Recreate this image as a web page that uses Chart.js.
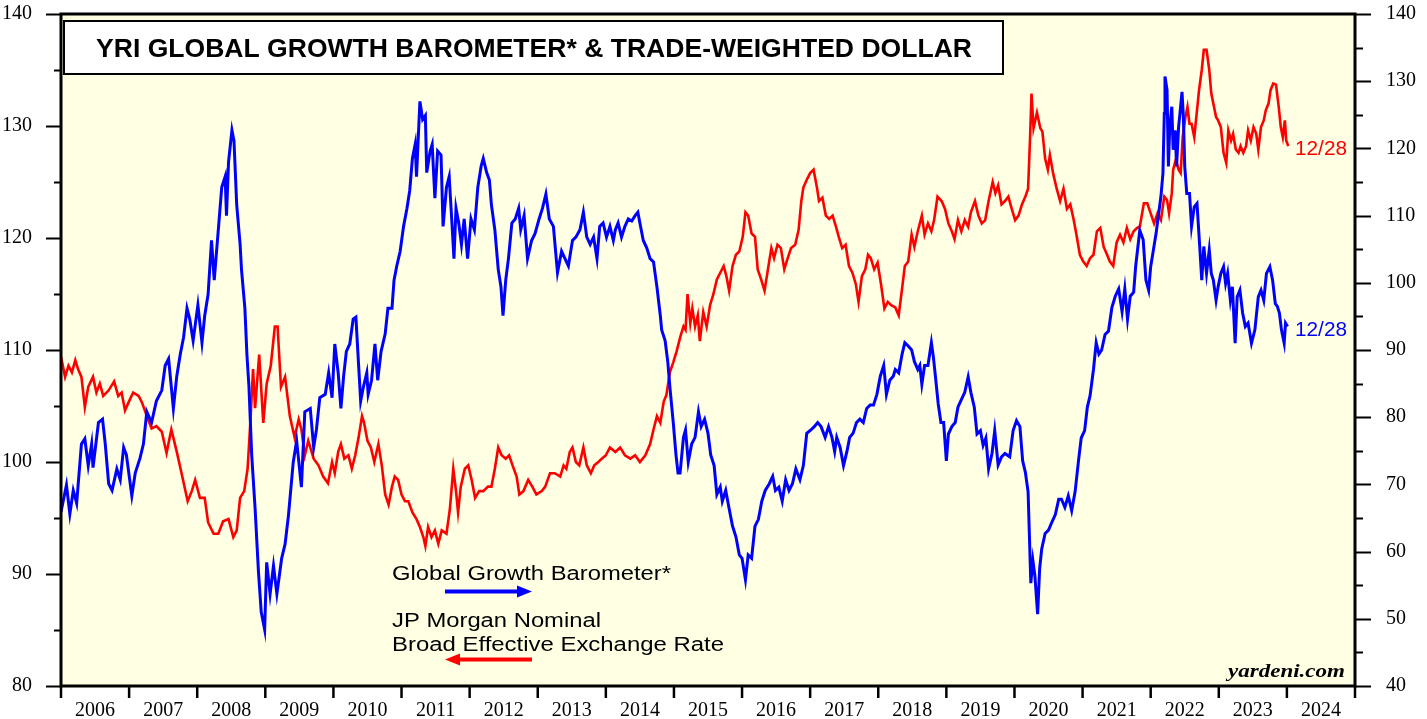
<!DOCTYPE html>
<html><head><meta charset="utf-8">
<script src="https://cdn.jsdelivr.net/npm/chart.js@4.4.1/dist/chart.umd.min.js"></script>
<style>html,body{margin:0;padding:0;background:#fff;overflow:hidden}</style>
</head><body>
<canvas id="c" width="1427" height="719"></canvas>
<script>
const yearLabels = ['2006','2007','2008','2009','2010','2011','2012','2013','2014','2015','2016','2017','2018','2019','2020','2021','2022','2023','2024'];
const leftTickValues = [80,90,100,110,120,130,140];
const rightTickValues = [40,50,60,70,80,90,100,110,120,130,140];
const titleText = 'YRI GLOBAL GROWTH BAROMETER* & TRADE-WEIGHTED DOLLAR';
const blueName = 'Global Growth Barometer*';
const redNameLines = ['JP Morgan Nominal','Broad Effective Exchange Rate'];
const lastDateLabel = '12/28';
const sourceText = 'yardeni.com';

// Global Growth Barometer (right axis)
const blueDates = [2006.00,2006.08,2006.13,2006.18,2006.23,2006.30,2006.35,2006.40,2006.45,2006.47,2006.55,2006.61,2006.65,2006.70,2006.75,2006.82,2006.87,2006.92,2006.96,2007.04,2007.09,2007.16,2007.21,2007.26,2007.33,2007.40,2007.48,2007.53,2007.58,2007.65,2007.70,2007.75,2007.80,2007.85,2007.89,2007.94,2008.01,2008.07,2008.11,2008.16,2008.21,2008.25,2008.31,2008.36,2008.41,2008.43,2008.46,2008.51,2008.54,2008.58,2008.63,2008.65,2008.70,2008.73,2008.76,2008.80,2008.85,2008.90,2008.94,2008.99,2009.02,2009.07,2009.12,2009.17,2009.24,2009.29,2009.34,2009.41,2009.46,2009.53,2009.58,2009.66,2009.71,2009.75,2009.80,2009.88,2009.93,2009.98,
2010.02,2010.07,2010.11,2010.15,2010.19,2010.24,2010.29,2010.33,2010.37,2010.40,2010.44,2010.49,2010.51,2010.56,2010.61,2010.65,2010.70,2010.76,2010.80,2010.86,2010.89,2010.93,2010.98,2011.03,2011.08,2011.12,2011.16,2011.20,2011.22,2011.27,2011.31,2011.35,2011.37,2011.42,2011.45,2011.49,2011.53,2011.58,2011.61,2011.66,2011.70,2011.74,2011.77,2011.80,2011.84,2011.88,2011.92,2011.97,2012.02,2012.07,2012.12,2012.17,2012.20,2012.25,2012.29,2012.32,2012.37,2012.42,2012.46,2012.49,2012.53,2012.57,2012.62,2012.67,2012.72,2012.75,2012.80,2012.85,2012.91,2012.96,2013.02,2013.07,2013.12,2013.17,2013.23,2013.29,2013.35,2013.40,2013.45,2013.51,2013.56,2013.62,2013.67,2013.72,2013.77,2013.82,2013.87,2013.91,2013.96,2014.01,2014.06,2014.11,
2014.14,2014.18,2014.23,2014.28,2014.33,2014.38,2014.43,2014.47,2014.50,2014.55,2014.60,2014.65,2014.70,2014.75,2014.80,2014.82,2014.87,2014.91,2014.94,2014.99,2015.03,2015.06,2015.09,2015.14,2015.17,2015.21,2015.26,2015.31,2015.36,2015.40,2015.45,2015.50,2015.54,2015.59,2015.63,2015.68,2015.71,2015.76,2015.81,2015.86,2015.91,2015.96,2016.00,2016.05,2016.09,2016.14,2016.19,2016.24,2016.29,2016.34,2016.40,2016.45,2016.49,2016.54,2016.59,2016.64,2016.69,2016.74,2016.79,2016.85,2016.90,2016.95,2017.01,2017.06,2017.11,2017.16,2017.22,2017.27,2017.32,2017.36,2017.39,2017.44,2017.49,2017.54,2017.58,2017.63,2017.68,2017.73,2017.78,2017.83,2017.88,2017.93,2017.98,2018.03,2018.08,2018.12,2018.17,2018.22,
2018.25,2018.30,2018.35,2018.39,2018.44,2018.49,2018.53,2018.58,2018.61,2018.64,2018.68,2018.73,2018.78,2018.81,2018.84,2018.88,2018.92,2018.96,2019.00,2019.03,2019.08,2019.13,2019.17,2019.22,2019.27,2019.32,2019.36,2019.41,2019.45,2019.50,2019.54,2019.58,2019.62,2019.67,2019.71,2019.76,2019.81,2019.86,2019.93,2019.98,2020.03,2020.08,2020.12,2020.16,2020.20,2020.22,2020.24,2020.27,2020.30,2020.34,2020.37,2020.40,2020.45,2020.50,2020.55,2020.60,2020.65,2020.69,2020.74,2020.79,2020.84,2020.89,2020.94,2020.98,2021.03,2021.07,2021.11,2021.16,2021.20,2021.24,2021.28,2021.33,2021.38,2021.43,2021.48,2021.53,2021.58,2021.62,2021.66,2021.70,2021.75,2021.78,
2021.84,2021.89,2021.93,2021.97,2022.00,2022.04,2022.08,2022.11,2022.15,2022.18,2022.20,2022.21,2022.24,2022.26,2022.28,2022.31,2022.33,2022.36,2022.38,2022.41,2022.43,2022.46,2022.48,2022.50,2022.53,2022.57,2022.60,2022.64,2022.68,2022.72,2022.75,2022.78,2022.82,2022.86,2022.89,2022.92,2022.96,2022.99,2023.03,2023.07,2023.10,2023.13,2023.17,2023.20,2023.24,2023.27,2023.31,2023.35,2023.39,2023.43,2023.48,2023.53,2023.58,2023.62,2023.66,2023.70,2023.75,2023.79,2023.83,2023.86,2023.89,2023.92,2023.96,2023.98,2024.01];
const blueValues = [65.9,69.9,65.6,69.1,67.2,76.0,76.8,72.8,76.0,72.5,79.2,79.7,76.0,70.1,69.1,72.3,70.7,75.5,74.4,68.3,71.7,73.9,76.0,80.8,79.2,82.4,84.0,87.7,88.7,81.3,86.1,89.3,91.9,96.2,94.6,91.4,96.7,91.1,95.1,98.3,106.3,100.4,107.9,114.2,115.8,110.0,118.0,122.7,121.1,111.6,105.7,102.0,96.2,89.3,84.5,74.4,66.4,56.9,51.0,48.4,58.4,53.7,57.9,53.7,59.0,61.1,65.4,73.3,76.5,69.6,80.8,81.3,75.5,78.1,82.9,83.4,86.6,82.9,
90.9,86.6,81.3,86.1,89.8,90.9,94.6,94.9,87.7,82.4,84.5,86.6,83.4,85.5,90.9,85.5,89.8,92.4,96.2,96.2,100.4,102.5,104.7,108.4,111.1,113.7,118.5,120.6,115.8,127.0,124.3,124.9,116.4,119.6,120.6,112.6,119.6,119.0,108.4,114.2,115.8,108.9,103.6,111.1,108.9,105.7,109.5,103.6,109.5,107.9,114.2,117.4,118.5,116.4,115.3,111.6,107.9,102.0,99.4,95.1,100.4,103.6,108.9,109.5,111.1,107.9,110.0,103.6,106.3,107.3,109.5,111.1,113.2,109.5,108.4,101.5,104.7,103.6,102.5,106.3,106.8,107.9,110.5,106.8,105.7,106.8,103.6,108.4,108.9,106.8,108.4,106.3,
107.9,108.9,106.8,108.4,109.5,109.2,110.0,110.5,108.9,106.3,105.2,103.6,103.1,99.4,95.1,93.0,91.4,88.2,84.5,79.2,74.4,71.7,71.7,77.0,78.1,73.3,76.0,77.0,80.8,78.6,79.7,77.6,74.4,72.8,68.5,69.6,67.5,69.1,66.4,63.8,62.2,59.5,59.0,55.8,59.5,59.0,63.8,64.8,67.5,69.1,70.1,71.2,69.1,69.6,67.5,70.7,69.1,70.1,72.3,70.7,72.8,77.6,78.1,78.6,79.2,78.6,77.0,78.6,77.0,74.9,77.0,75.5,72.8,74.9,77.0,77.6,79.2,79.7,79.2,81.3,81.8,81.8,83.4,86.1,87.7,83.4,85.5,86.1,
87.1,86.6,89.4,91.1,90.6,90.0,88.3,87.1,87.7,84.9,87.7,87.7,91.1,88.9,86.0,82.0,79.2,79.2,73.5,77.5,78.6,79.2,81.5,82.6,83.7,86.0,83.7,81.5,77.5,78.0,75.8,76.9,72.3,74.6,78.0,72.9,74.1,74.6,74.1,78.0,79.5,78.6,73.5,71.8,68.9,62.1,55.3,58.7,56.4,50.7,57.5,60.4,62.7,63.2,64.4,65.5,67.8,67.8,66.6,68.3,66.1,68.9,73.5,76.9,78.0,81.5,83.2,87.1,91.1,89.4,90.0,92.3,92.8,96.3,98.0,99.1,95.7,99.1,94.6,98.0,98.6,102.5,
107.8,106.4,100.4,98.9,102.4,104.9,107.4,109.8,112.8,116.3,125.2,130.7,128.7,117.3,123.2,126.2,119.8,122.7,117.3,123.2,125.2,128.4,124.7,117.3,113.3,113.3,108.4,111.3,111.8,105.4,100.4,105.4,101.4,104.9,101.4,100.4,97.4,99.4,101.4,102.4,99.9,101.4,97.4,99.4,91.0,97.9,98.9,95.5,93.5,94.0,91.0,93.0,97.9,98.9,97.4,101.4,102.4,100.4,96.9,96.5,95.5,93.0,91.0,94.0,93.5];

// JP Morgan Nominal Broad Effective Exchange Rate (left axis)
const redDates = [2006.00,2006.06,2006.11,2006.16,2006.21,2006.25,2006.30,2006.35,2006.40,2006.47,2006.52,2006.57,2006.62,2006.70,2006.78,2006.84,2006.89,2006.94,2006.99,2007.06,2007.14,2007.19,2007.26,2007.33,2007.40,2007.48,2007.55,2007.62,2007.70,2007.77,2007.86,2007.92,2007.97,2008.04,2008.11,2008.16,2008.24,2008.31,2008.38,2008.46,2008.53,2008.58,2008.63,2008.69,2008.74,2008.78,2008.82,2008.85,2008.91,2008.97,2009.02,2009.08,2009.14,2009.18,2009.23,2009.29,2009.36,2009.43,2009.49,2009.53,2009.58,2009.63,2009.71,2009.78,2009.85,2009.92,2009.98,
2010.02,2010.07,2010.11,2010.16,2010.22,2010.27,2010.32,2010.37,2010.42,2010.45,2010.50,2010.55,2010.60,2010.66,2010.71,2010.76,2010.81,2010.86,2010.90,2010.95,2011.00,2011.05,2011.10,2011.16,2011.22,2011.27,2011.32,2011.35,2011.39,2011.44,2011.49,2011.54,2011.59,2011.66,2011.71,2011.76,2011.80,2011.83,2011.87,2011.93,2011.98,2012.03,2012.08,2012.14,2012.20,2012.27,2012.32,2012.37,2012.42,2012.47,2012.53,2012.58,2012.63,2012.69,2012.73,2012.79,2012.86,2012.92,2012.98,2013.06,2013.11,2013.18,2013.25,2013.33,2013.38,2013.42,2013.47,2013.51,2013.56,2013.61,2013.67,2013.72,2013.78,2013.83,2013.89,2013.94,2014.00,2014.06,
2014.14,2014.21,2014.28,2014.36,2014.43,2014.50,2014.58,2014.65,2014.70,2014.75,2014.80,2014.85,2014.89,2014.94,2014.99,2015.04,2015.09,2015.14,2015.17,2015.20,2015.24,2015.27,2015.31,2015.35,2015.38,2015.43,2015.48,2015.53,2015.58,2015.63,2015.68,2015.73,2015.77,2015.81,2015.86,2015.91,2015.96,2016.01,2016.05,2016.09,2016.14,2016.19,2016.23,2016.28,2016.33,2016.38,2016.43,2016.47,2016.52,2016.57,2016.62,2016.67,2016.72,2016.78,2016.83,2016.87,2016.90,2016.95,2017.00,2017.05,2017.10,2017.13,2017.18,2017.23,2017.28,2017.33,2017.38,2017.42,2017.47,2017.52,2017.57,2017.62,2017.67,2017.71,2017.76,2017.81,2017.85,2017.89,2017.94,2017.99,2018.04,2018.09,2018.14,2018.19,
2018.25,2018.30,2018.35,2018.39,2018.44,2018.49,2018.53,2018.58,2018.64,2018.68,2018.73,2018.78,2018.82,2018.87,2018.93,2018.98,2019.03,2019.08,2019.12,2019.17,2019.22,2019.27,2019.32,2019.36,2019.42,2019.47,2019.52,2019.57,2019.62,2019.68,2019.72,2019.76,2019.81,2019.86,2019.91,2019.96,2020.01,2020.06,2020.11,2020.16,2020.20,2020.23,2020.25,2020.28,2020.33,2020.38,2020.41,2020.45,2020.49,2020.52,2020.57,2020.62,2020.67,2020.72,2020.77,2020.82,2020.87,2020.91,2020.96,2021.01,2021.06,2021.11,2021.16,2021.21,2021.26,2021.31,2021.36,2021.40,2021.45,2021.50,2021.55,2021.60,2021.65,2021.70,2021.75,2021.80,
2021.84,2021.90,2021.95,2022.00,2022.05,2022.10,2022.15,2022.20,2022.24,2022.27,2022.31,2022.33,2022.37,2022.41,2022.44,2022.47,2022.51,2022.54,2022.57,2022.60,2022.64,2022.68,2022.71,2022.75,2022.78,2022.82,2022.86,2022.89,2022.92,2022.96,2022.99,2023.03,2023.07,2023.11,2023.14,2023.18,2023.21,2023.25,2023.29,2023.32,2023.36,2023.40,2023.43,2023.47,2023.51,2023.55,2023.58,2023.62,2023.66,2023.69,2023.73,2023.76,2023.80,2023.84,2023.88,2023.91,2023.94,2023.97,2023.99,2024.02];
const redValues = [109.4,107.6,108.6,108.0,109.1,108.3,107.6,104.9,106.7,107.6,106.2,107.0,105.9,106.4,107.2,105.9,106.2,104.6,105.3,106.2,105.9,105.3,104.1,103.0,103.2,102.7,100.8,102.9,100.9,99.0,96.5,97.4,98.4,96.8,96.8,94.6,93.6,93.6,94.7,94.9,93.3,93.9,96.8,97.4,99.4,103.5,108.3,104.8,109.6,103.5,107.0,108.6,112.1,112.1,106.7,107.6,104.1,102.2,103.8,102.9,100.6,101.9,100.3,99.7,98.7,98.1,100.0,
99.0,100.9,101.6,100.3,100.6,99.4,100.6,102.2,104.1,103.5,101.9,101.3,100.0,101.6,99.7,97.1,96.2,97.8,98.7,98.4,97.1,96.5,96.5,95.5,94.9,94.2,93.3,92.5,94.2,93.3,93.9,92.7,93.9,93.6,95.8,99.4,97.4,95.5,97.8,99.4,99.7,98.4,96.8,97.4,97.4,97.8,97.8,99.4,101.3,100.6,100.3,100.6,99.7,98.7,97.1,97.4,98.4,97.8,97.1,97.4,97.8,99.0,99.0,98.7,99.7,99.4,100.9,101.3,100.0,99.7,101.3,99.7,99.0,99.7,100.0,100.3,100.6,101.3,
100.9,101.3,100.6,100.3,100.6,100.0,100.6,101.6,102.9,104.1,103.5,105.4,106.0,108.0,108.9,109.9,111.1,112.1,111.8,115.0,112.4,113.7,112.1,113.1,110.8,113.4,112.1,114.0,115.0,116.3,116.9,117.5,116.6,115.3,117.5,118.5,118.8,120.1,122.3,122.0,120.4,120.1,117.2,116.3,115.3,117.2,119.1,118.2,119.4,119.1,117.2,118.2,119.1,119.4,120.7,123.3,124.5,125.2,125.8,126.1,124.5,123.3,123.6,122.0,121.7,122.0,121.0,120.1,119.1,119.4,117.5,116.9,115.9,114.3,116.6,117.2,118.5,118.2,117.2,117.8,115.9,113.7,114.3,114.0,
113.8,113.1,115.5,117.5,117.9,120.3,119.2,120.6,122.0,120.3,121.3,120.6,121.6,123.7,123.3,122.6,121.3,120.6,119.9,121.6,120.6,121.6,121.0,122.3,123.3,122.0,121.3,121.6,123.3,125.0,124.0,124.7,123.0,123.3,123.7,122.6,121.6,122.0,123.0,123.7,124.4,129.1,132.9,129.8,131.2,129.8,129.5,127.1,126.1,127.4,125.7,124.4,123.3,124.4,122.6,123.0,121.6,120.3,118.5,117.9,117.5,118.2,118.5,120.6,120.9,119.2,118.5,117.9,117.5,119.6,120.3,119.6,120.9,119.9,120.6,120.9,
121.0,123.1,123.1,122.2,121.3,122.2,121.6,123.7,123.4,122.2,124.0,126.1,127.0,126.1,125.8,129.0,130.8,131.7,130.2,130.2,129.0,131.4,133.2,135.0,136.8,136.8,135.0,132.9,132.0,130.8,130.5,129.9,127.6,126.7,129.6,128.7,129.3,127.9,127.6,128.2,127.6,128.2,129.6,128.7,129.9,129.3,127.9,129.9,130.5,131.4,132.0,133.2,133.8,133.7,131.7,129.9,129.0,130.5,128.7,128.2];

const BLUE = '#0000FF', RED = '#FF0000', BG = '#FFFFE3';

function fitText(ctx, text, x, y, targetW, align) {
  const w = ctx.measureText(text).width;
  const s = targetW / w;
  ctx.save();
  ctx.translate(x, y);
  ctx.scale(s, 1);
  ctx.textAlign = align;
  ctx.textBaseline = 'alphabetic';
  ctx.fillText(text, 0, 0);
  ctx.restore();
}

function arrow(ctx, x1, x2, y, color, dir) {
  ctx.save();
  ctx.strokeStyle = color; ctx.fillStyle = color;
  ctx.lineWidth = 4; ctx.lineCap = 'butt';
  const tip = dir > 0 ? x2 : x1;
  const headLen = 15, headH = 6;
  ctx.beginPath();
  if (dir > 0) { ctx.moveTo(x1, y); ctx.lineTo(x2 - headLen + 2, y); }
  else { ctx.moveTo(x2, y); ctx.lineTo(x1 + headLen - 2, y); }
  ctx.stroke();
  ctx.beginPath();
  ctx.moveTo(tip, y);
  ctx.lineTo(tip - dir * headLen, y - headH);
  ctx.lineTo(tip - dir * headLen, y + headH);
  ctx.closePath(); ctx.fill();
  ctx.restore();
}

const decor = {
  id: 'decor',
  beforeDraw(chart) {
    const {ctx, chartArea: a} = chart;
    ctx.save();
    ctx.fillStyle = '#fff';
    ctx.fillRect(0, 0, chart.width, chart.height);
    ctx.fillStyle = BG;
    ctx.fillRect(a.left, a.top, a.right - a.left, a.bottom - a.top);
    ctx.restore();
  },
  afterDraw(chart) {
    const {ctx, chartArea: a, scales} = chart;
    ctx.save();
    ctx.strokeStyle = '#000';
    ctx.lineWidth = 2;
    const yL = scales.yL, yR = scales.yR, x = scales.x;
    for (let v = yL.min; v <= yL.max; v += 5) {
      const py = Math.round(yL.getPixelForValue(v)) + 0.5;
      const len = v % 10 === 0 ? 15 : 7;
      ctx.beginPath(); ctx.moveTo(a.left - len, py); ctx.lineTo(a.left, py); ctx.stroke();
    }
    for (let v = yR.min; v <= yR.max; v += 5) {
      const py = Math.round(yR.getPixelForValue(v)) + 0.5;
      const len = v % 10 === 0 ? 16 : 8;
      ctx.beginPath(); ctx.moveTo(a.right, py); ctx.lineTo(a.right + len, py); ctx.stroke();
    }
    ctx.lineWidth = 2.5;
    for (let i = 0; i <= yearLabels.length; i++) {
      const yr = i < yearLabels.length ? Number(yearLabels[i]) : Number(yearLabels[i-1]) + 1;
      const px = x.getPixelForValue(yr);
      ctx.beginPath(); ctx.moveTo(px, a.bottom); ctx.lineTo(px, a.bottom + 12); ctx.stroke();
    }
    ctx.lineWidth = 3;
    ctx.strokeRect(a.left, a.top, a.right - a.left, a.bottom - a.top);

    ctx.fillStyle = '#fff';
    ctx.fillRect(64, 21, 939, 53);
    ctx.lineWidth = 2;
    ctx.strokeStyle = '#000';
    ctx.strokeRect(64, 21, 939, 53);
    ctx.fillStyle = '#000';
    ctx.font = 'bold 25px "Liberation Sans", Arial, sans-serif';
    fitText(ctx, titleText, 534, 56.5, 876, 'center');

    ctx.font = '20px "Liberation Sans", Arial, sans-serif';
    ctx.fillStyle = '#000';
    fitText(ctx, blueName, 392, 580, 279, 'left');
    fitText(ctx, redNameLines[0], 392, 627, 209, 'left');
    fitText(ctx, redNameLines[1], 392, 651, 332, 'left');
    arrow(ctx, 445, 532, 591.5, BLUE, 1);
    arrow(ctx, 445, 532, 659.5, RED, -1);

    ctx.font = '20px "Liberation Sans", Arial, sans-serif';
    ctx.fillStyle = RED;
    fitText(ctx, lastDateLabel, 1295, 155, 52, 'left');
    ctx.fillStyle = BLUE;
    fitText(ctx, lastDateLabel, 1295, 336, 52, 'left');

    ctx.fillStyle = '#000';
    ctx.font = 'italic bold 19px "Liberation Serif", "Times New Roman", serif';
    fitText(ctx, sourceText, 1345, 677, 117, 'right');
    ctx.restore();
  }
};

const serif = {family: '"Liberation Serif", "Times New Roman", serif', size: 20};

function noPadY(s, w) { s.width = w; s.paddingTop = 0; s.paddingBottom = 0; }

new Chart(document.getElementById('c'), {
  type: 'line',
  data: {
    datasets: [
      {
        label: blueName,
        data: blueDates.map((d, i) => ({x: d, y: blueValues[i]})),
        yAxisID: 'yR',
        borderColor: BLUE,
        borderWidth: 3,
        pointRadius: 0,
        tension: 0,
        fill: false
      },
      {
        label: redNameLines.join(' '),
        data: redDates.map((d, i) => ({x: d, y: redValues[i]})),
        yAxisID: 'yL',
        borderColor: RED,
        borderWidth: 2.6,
        pointRadius: 0,
        tension: 0,
        fill: false
      }
    ]
  },
  options: {
    responsive: false,
    devicePixelRatio: 1,
    animation: false,
    layout: {padding: {top: 14, left: 0, right: 0, bottom: 0}},
    plugins: {legend: {display: false}, tooltip: {enabled: false}, title: {display: false}},
    scales: {
      x: {
        type: 'linear',
        position: 'bottom',
        min: Number(yearLabels[0]),
        max: Number(yearLabels[yearLabels.length - 1]) + 1,
        grid: {display: false},
        border: {display: false},
        afterBuildTicks: s => { s.ticks = yearLabels.map(l => ({value: Number(l) + 0.5})); },
        ticks: {
          autoSkip: false, maxRotation: 0, minRotation: 0,
          padding: 5, color: '#000', font: serif,
          callback: (v, i) => yearLabels[i]
        },
        afterFit: s => { s.height = 33; s.paddingLeft = 0; s.paddingRight = 0; }
      },
      yL: {
        type: 'linear',
        position: 'left',
        min: 80, max: 140,
        grid: {display: false},
        border: {display: false},
        afterBuildTicks: s => { s.ticks = leftTickValues.map(v => ({value: v})); },
        ticks: {autoSkip: false, padding: 21, color: '#000', font: serif, callback: v => String(v)},
        afterFit: s => noPadY(s, 61)
      },
      yR: {
        type: 'linear',
        position: 'right',
        min: 40, max: 140,
        grid: {display: false},
        border: {display: false},
        afterBuildTicks: s => { s.ticks = rightTickValues.map(v => ({value: v})); },
        ticks: {autoSkip: false, padding: 23, color: '#000', font: serif, callback: v => String(v)},
        afterFit: s => noPadY(s, 72)
      }
    }
  },
  plugins: [decor]
});
</script>
</body></html>
